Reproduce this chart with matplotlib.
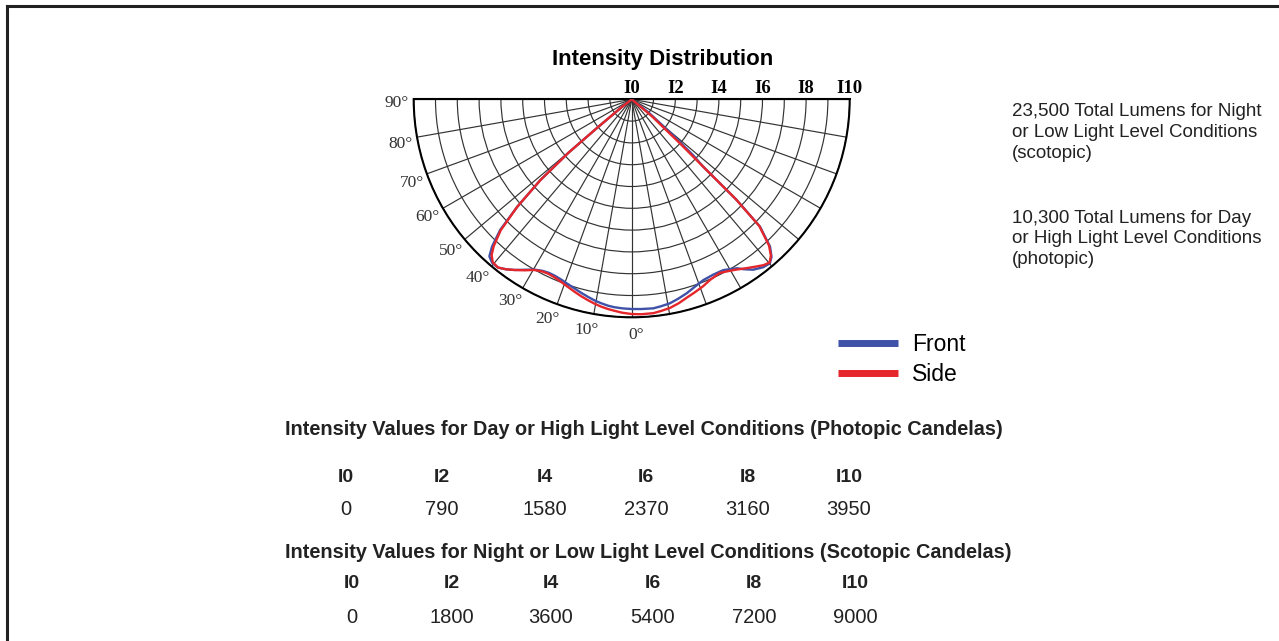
import numpy as np
import matplotlib
matplotlib.use("Agg")
import matplotlib.pyplot as plt
from matplotlib.lines import Line2D

# ---------------- data ----------------
# polar intensity curves: angle in degrees from nadir (positive = left half),
# intensity in relative units of the I-scale (I0 .. I10)
front_angle = [90, 52, 50.5, 49.8, 48.5, 46.8, 45.2, 43.5, 42.2, 40.5, 38.5, 36.5, 34.5,
               32, 29.8, 27.5, 25.5, 23.5, 21.3, 19, 16.7, 14.5, 12.5, 10.5, 8.5, 6.5,
               4.8, 2.5, 0, -2.5, -5.9, -8, -10.6, -13, -15.8, -18.5, -21.6, -25, -28.2,
               -30, -31.9, -33.5, -35.5, -38, -40.1, -41.6, -43.2, -45.2, -46.2, -46.7,
               -47.7, -49, -52, -90]
front_intensity = [0, 0.6, 2.0, 3.8, 5.6, 7.2, 8.5, 9.3, 9.72, 9.86, 9.86, 9.7, 9.5,
                   9.22, 9.0, 8.87, 8.82, 8.83, 8.88, 8.97, 9.07, 9.18, 9.28, 9.38, 9.46, 9.53,
                   9.57, 9.6, 9.62, 9.63, 9.64, 9.59, 9.52, 9.4, 9.25, 9.08, 8.92, 8.87, 8.89,
                   9.0, 9.13, 9.35, 9.6, 9.78, 9.84, 9.66, 9.27, 8.3, 6.67, 4.5,
                   3.8, 2.5, 1.0, 0]

side_angle = [90, 52, 50.5, 49.8, 48.5, 46.8, 45.0, 43.2, 42.0, 40.5, 38.5, 36.5, 34.5,
              32, 29.8, 27.5, 25.5, 23.5, 21.3, 19, 16.7, 14.5, 12.5, 10.5, 8.5, 6.5,
              4.8, 2.5, 0, -2.5, -5.8, -8, -10.4, -13, -15.4, -18, -20.9, -23.5, -26.9,
              -29.5, -31.6, -34, -36.5, -38.5, -40.2, -41.7, -43.2, -45.2, -46.2, -46.7,
              -47.6, -50, -90]
side_intensity = [0, 0.6, 2.0, 3.8, 5.6, 7.2, 8.5, 9.25, 9.6, 9.82, 9.86, 9.7, 9.5,
                  9.25, 9.02, 8.9, 8.87, 8.9, 8.97, 9.08, 9.2, 9.32, 9.42, 9.52, 9.61, 9.68,
                  9.73, 9.8, 9.85, 9.87, 9.86, 9.8, 9.73, 9.6, 9.45, 9.32, 9.18, 9.03, 8.93,
                  9.05, 9.17, 9.35, 9.55, 9.72, 9.8, 9.6, 9.2, 8.25, 6.6, 4.45,
                  3.0, 1.2, 0]

ring_values = [0, 2, 4, 6, 8, 10]
ring_labels = ["I0", "I2", "I4", "I6", "I8", "I10"]
angle_labels = [0, 10, 20, 30, 40, 50, 60, 70, 80, 90]

table_headers = ["I0", "I2", "I4", "I6", "I8", "I10"]
photopic_cd = [0, 790, 1580, 2370, 3160, 3950]
scotopic_cd = [0, 1800, 3600, 5400, 7200, 9000]

title = "Intensity Distribution"
photopic_title = "Intensity Values for Day or High Light Level Conditions (Photopic Candelas)"
scotopic_title = "Intensity Values for Night or Low Light Level Conditions (Scotopic Candelas)"
note_lines = ["23,500 Total Lumens for Night", "or Low Light Level Conditions", "(scotopic)",
              "10,300 Total Lumens for Day", "or High Light Level Conditions", "(photopic)"]
series_names = ["Front", "Side"]

# ---------------- figure ----------------
W, H, DPI = 1279, 641, 100
SANS = ["Liberation Sans", "DejaVu Sans"]
SERIF = ["Liberation Serif", "DejaVu Serif"]
plt.rcParams["font.family"] = SANS

fig = plt.figure(figsize=(W / DPI, H / DPI), dpi=DPI, facecolor="white")

def fx(x):
    return x / W

def fy(y):
    return 1 - y / H

BLUE = "#3f51a8"
RED = "#e5262b"
INK = "#222222"

# polar axes: center (cx, cy) in pixels, radius R
cx, cy, R = 631.7, 99.3, 218.0
ax = fig.add_axes([fx(cx - R), fy(cy + 1.5 * R), 2 * R / W, 2 * R / H], projection="polar")
ax.set_theta_zero_location("S")
ax.set_theta_direction(-1)
ax.set_thetamin(-90)
ax.set_thetamax(90)
ax.set_thetagrids(np.arange(-90, 91, 10), labels=[""] * 19)
ax.set_rgrids(np.arange(1, 11), labels=[""] * 10)
ax.set_ylim(0, 10)
ax.grid(True, color="#333333", lw=0.85)
ax.tick_params(length=0)
for s in ax.spines.values():
    s.set_color("black")
    s.set_linewidth(1.5)

ax.plot(np.deg2rad(front_angle), front_intensity, color=BLUE, lw=1.7, zorder=3)
ax.plot(np.deg2rad(side_angle), side_intensity, color=RED, lw=1.7, zorder=4)

# angle labels on left side
nudges = {0: -1.1, 10: 1.0, 20: 1.0, 30: 1.0, 40: 0.8, 70: -0.8, 80: -1.0, 90: -0.9}
for a in angle_labels:
    ax.text(np.deg2rad(a + nudges.get(a, 0.0)), 10.8, f"{a}\u00b0", ha="center", va="center",
            fontfamily=SERIF, fontsize=12.5, color="#333333")

# ring labels on top
for v, lbl in zip(ring_values, ring_labels):
    ax.annotate(lbl, xy=(np.deg2rad(-90), v), xytext=(0, 4.7), textcoords="offset points",
                ha="center", va="baseline", fontfamily=SERIF, fontweight="bold",
                fontsize=13.5, color="black", annotation_clip=False)

fig.text(fx(662.5), fy(59.5), title, ha="center", va="center", fontsize=16,
         fontweight="bold", color="black")

# legend
handles = [Line2D([], [], color=BLUE, lw=5, solid_capstyle="butt"),
           Line2D([], [], color=RED, lw=5, solid_capstyle="butt")]
fig.legend(handles=handles, labels=series_names, loc="upper left",
           bbox_to_anchor=(fx(838), fy(333)), frameon=False, fontsize=16.5,
           handlelength=2.6, handletextpad=0.65, labelspacing=0.3,
           borderpad=0, borderaxespad=0)

# notes on right
note_baselines = [116.5, 137.3, 158, 222.5, 243.3, 264]
for txt, yb in zip(note_lines, note_baselines):
    fig.text(fx(1012), fy(yb), txt, ha="left", va="baseline", fontsize=13.5, color=INK)

# tables
fig.text(fx(285), fy(435), photopic_title, ha="left", va="baseline", fontsize=14.3,
         fontweight="bold", color=INK)
cols1 = [346, 442, 545, 646, 748, 849]
for x, h, v in zip(cols1, table_headers, photopic_cd):
    fig.text(fx(x), fy(482), h, ha="center", va="baseline", fontsize=14, fontweight="bold", color=INK)
    fig.text(fx(x), fy(515), str(v), ha="center", va="baseline", fontsize=14.5, color=INK)

fig.text(fx(285), fy(558.3), scotopic_title, ha="left", va="baseline", fontsize=14.3,
         fontweight="bold", color=INK)
cols2 = [352, 452, 551, 653, 754, 855]
for x, h, v in zip(cols2, table_headers, scotopic_cd):
    fig.text(fx(x), fy(588.3), h, ha="center", va="baseline", fontsize=14, fontweight="bold", color=INK)
    fig.text(fx(x), fy(623), str(v), ha="center", va="baseline", fontsize=14.5, color=INK)

# page border (top and left)
fig.add_artist(Line2D([fx(7), 1.0], [fy(6), fy(6)], transform=fig.transFigure,
                      color="#222222", lw=2.2))
fig.add_artist(Line2D([fx(7), fx(7)], [0.0, fy(6)], transform=fig.transFigure,
                      color="#222222", lw=2.2))

fig.savefig("out.png", dpi=DPI, facecolor="white")
